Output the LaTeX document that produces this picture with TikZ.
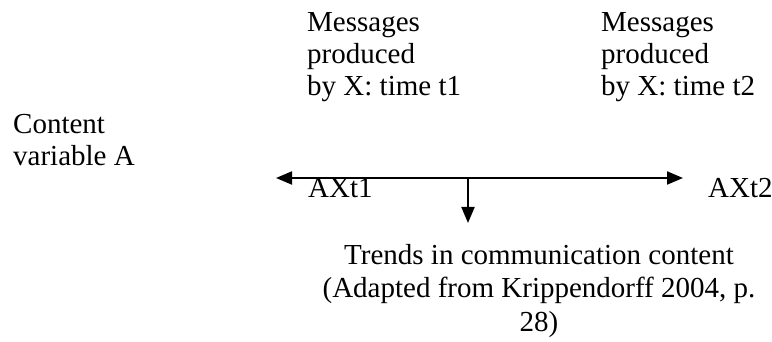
\documentclass[tikz,border=0pt]{standalone}
\usepackage{fontspec}
\setmainfont{Liberation Serif}
\usetikzlibrary{arrows.meta}
\begin{document}
\begin{tikzpicture}[x=1pt,y=-1pt,
  lbl/.style={inner sep=0pt,anchor=base west,font=\fontsize{29}{32}\selectfont},
  clbl/.style={inner sep=0pt,anchor=base,font=\fontsize{29}{32}\selectfont},
  arr/.style={line width=2pt,-{Triangle[length=16pt,width=13pt]}},
  darr/.style={line width=2pt,{Triangle[length=16pt,width=13pt]}-{Triangle[length=16pt,width=13pt]}}]
\useasboundingbox (0,0) rectangle (772,342);
% top blocks
\node[lbl] (m1a) at (307,32) {Messages};
\node[lbl] (m1b) at (307,64) {produced};
\node[lbl] (m1c) at (307,96) {by X: time t1};
\node[lbl] (m2a) at (601,32) {Messages};
\node[lbl] (m2b) at (601,64) {produced};
\node[lbl] (m2c) at (601,96) {by X: time t2};
% left label
\node[lbl] (ca) at (13,134) {Content};
\node[lbl] (cb) at (13,166) {variable A};
% arrows
\coordinate (L) at (276,178);
\coordinate (R) at (683,178);
\coordinate (M) at (468,178);
\coordinate (D) at (468,223);
\draw[darr] (L) -- (R);
\draw[arr] (M) -- (D);
\node[lbl] (ax1) at (308,198) {AXt1};
\node[lbl] (ax2) at (708,198) {AXt2};
% bottom caption
\node[clbl] (t1) at (539,265) {Trends in communication content};
\node[clbl] (t2) at (539,298) {(Adapted from Krippendorff 2004, p.};
\node[clbl] (t3) at (539,331) {28)};
\end{tikzpicture}
\end{document}
